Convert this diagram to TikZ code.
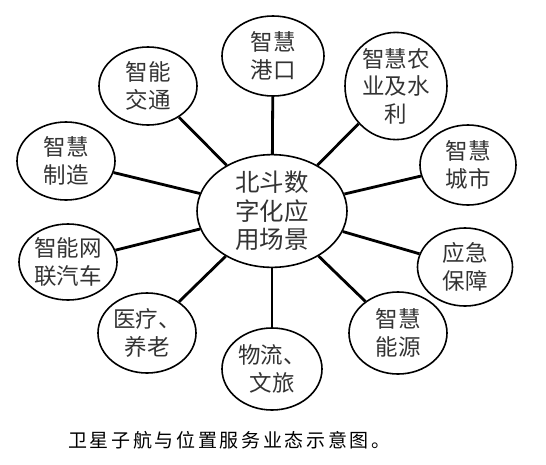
\documentclass[tikz,border=0pt]{standalone}
\usepackage{fontspec}
\newfontfamily\cjk{Noto Sans CJK SC}
\newfontfamily\cjkcap[LetterSpace=14]{Noto Sans CJK SC}
\usetikzlibrary{shapes.geometric}
\begin{document}
\begin{tikzpicture}[x=1pt,y=-1pt,
  bub/.style={ellipse,draw,line width=1.6pt,inner sep=0pt,align=center,
    font=\cjk\fontsize{22.5}{27.5}\selectfont,text=black!80},
  spoke/.style={line width=2.8pt}]
\useasboundingbox (0,0) rectangle (546,464);
\node[bub,minimum width=150,minimum height=102,font=\cjk\fontsize{24.5}{28.5}\selectfont] (c) at (272,211) {北斗数\\字化应\\用场景};
\node[bub,minimum width=102,minimum height=80] (n1) at (273,56) {智慧\\港口};
\node[bub,minimum width=102,minimum height=98] (n2) at (396,86) {智慧农\\业及水\\利};
\node[bub,minimum width=96,minimum height=80] (n3) at (468,165) {智慧\\城市};
\node[bub,minimum width=95,minimum height=78] (n4) at (465,267) {应急\\保障};
\node[bub,minimum width=98,minimum height=82] (n5) at (398,333) {智慧\\能源};
\node[bub,minimum width=100,minimum height=82] (n6) at (272,369) {物流、\\文旅};
\node[bub,minimum width=98,minimum height=80] (n7) at (147,333) {医疗、\\养老};
\node[bub,minimum width=98,minimum height=76] (n8) at (68,262) {智能网\\联汽车};
\node[bub,minimum width=98,minimum height=78] (n9) at (66,161) {智慧\\制造};
\node[bub,minimum width=98,minimum height=78] (n10) at (148,86) {智能\\交通};
\foreach \n in {n1,n2,n3,n4,n5,n6,n7,n8,n9,n10} \draw[spoke] (c) -- (\n);
\node[font=\cjkcap\fontsize{19}{21}\selectfont,anchor=west,inner sep=0pt] (cap) at (68,440) {卫星子航与位置服务业态示意图。};
\end{tikzpicture}
\end{document}
